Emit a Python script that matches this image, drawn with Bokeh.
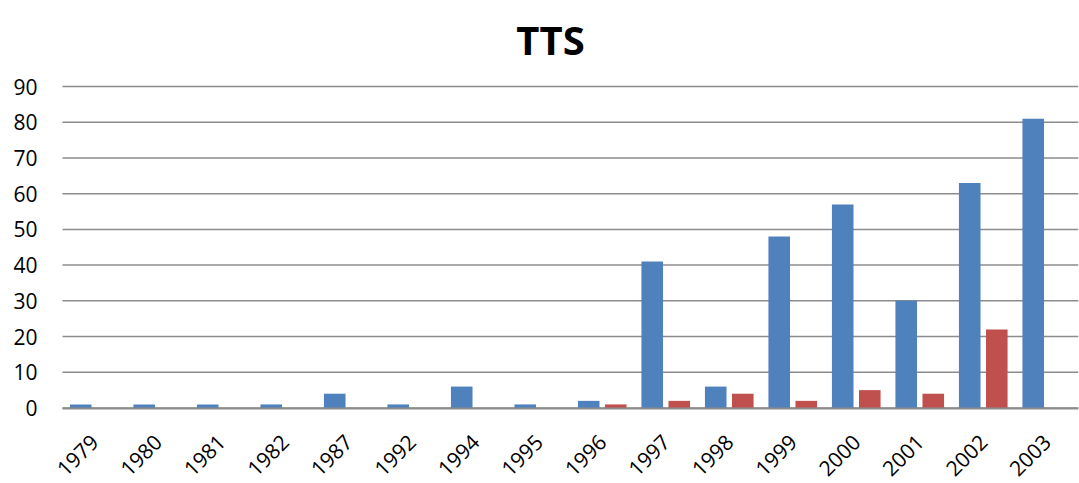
from bokeh.plotting import figure
from bokeh.models import ColumnDataSource, Range1d, FixedTicker, Label
from bokeh.transform import dodge
from bokeh.embed import file_html
from bokeh.resources import INLINE
import math

years = ["1979", "1980", "1981", "1982", "1987", "1992", "1994", "1995",
         "1996", "1997", "1998", "1999", "2000", "2001", "2002", "2003"]
series_blue = [1, 1, 1, 1, 4, 1, 6, 1, 2, 41, 6, 48, 57, 30, 63, 81]
series_red = [0, 0, 0, 0, 0, 0, 0, 0, 1, 2, 4, 2, 5, 4, 22, 0]
y_ticks = [0, 10, 20, 30, 40, 50, 60, 70, 80, 90]
title_text = "TTS"

n = len(years)
centers = [i + 0.5 for i in range(n)]
src = ColumnDataSource(dict(xc=centers, year=years, blue=series_blue, red=series_red))

# layout geometry (pixels)
W, H = 1079, 483
PX_LEFT_CAT, PX_RIGHT_CAT = 62.0, 1078.0   # category band extent
FRAME_LEFT = 50
PX_TOP, PX_ZERO = 86.0, 407.5              # value 90 and value 0
kx = n / (PX_RIGHT_CAT - PX_LEFT_CAT)
ky = (y_ticks[-1] - y_ticks[0]) / (PX_ZERO - PX_TOP)

p = figure(x_range=Range1d(-(PX_LEFT_CAT - FRAME_LEFT) * kx, n + (W - 1 - PX_RIGHT_CAT) * kx),
           y_range=Range1d(-(H - PX_ZERO) * ky, y_ticks[-1] + PX_TOP * ky),
           width=W, height=H, output_backend="svg", toolbar_location=None,
           min_border_left=FRAME_LEFT, min_border_right=1, min_border_top=0,
           min_border_bottom=0)
p.outline_line_color = None
p.background_fill_color = "white"
p.border_fill_color = "white"

# horizontal gridlines spanning the category band
p.xgrid.visible = False
p.ygrid.visible = False
p.segment(x0=[0] * len(y_ticks), x1=[n] * len(y_ticks), y0=y_ticks, y1=y_ticks,
          line_color="#8c8c8c", line_width=1.5)

p.vbar(x=dodge("xc", -0.213), top="blue", width=0.34,
       source=src, fill_color="#4F81BD", line_color=None)
p.vbar(x=dodge("xc", 0.213), top="red", width=0.34,
       source=src, fill_color="#C0504D", line_color=None)

p.yaxis.ticker = FixedTicker(ticks=y_ticks)
p.yaxis.axis_line_color = None
p.yaxis.major_tick_line_color = None
p.yaxis.minor_tick_line_color = None
p.yaxis.major_tick_out = 0
p.yaxis.major_tick_in = 0
p.yaxis.major_label_standoff = 13
p.yaxis.major_label_text_font = "Open Sans"
p.yaxis.major_label_text_font_size = "21px"
p.yaxis.major_label_text_color = "#000000"

p.xaxis.fixed_location = 0
p.xaxis.bounds = (0, n)
p.xaxis.ticker = FixedTicker(ticks=centers)
p.xaxis.major_label_overrides = {c: y for c, y in zip(centers, years)}
p.xaxis.axis_line_color = "#8c8c8c"
p.xaxis.axis_line_width = 2
p.xaxis.major_tick_line_color = None
p.xaxis.minor_tick_line_color = None
p.xaxis.major_tick_out = 0
p.xaxis.major_tick_in = 0
p.xaxis.major_label_orientation = math.pi / 4
p.xaxis.major_label_standoff = 30
p.xaxis.major_label_text_font = "Open Sans"
p.xaxis.major_label_text_font_size = "21px"
p.xaxis.major_label_text_color = "#000000"

title = Label(x=(550 - PX_LEFT_CAT) * kx, y=y_ticks[-1] + (PX_TOP - 39) * ky,
              text=title_text, text_align="center", text_baseline="alphabetic",
              text_font="Open Sans", text_font_style="bold",
              text_font_size="40px", text_color="#000000")
p.add_layout(title)

open("out.html", "w").write(file_html(p, INLINE))
